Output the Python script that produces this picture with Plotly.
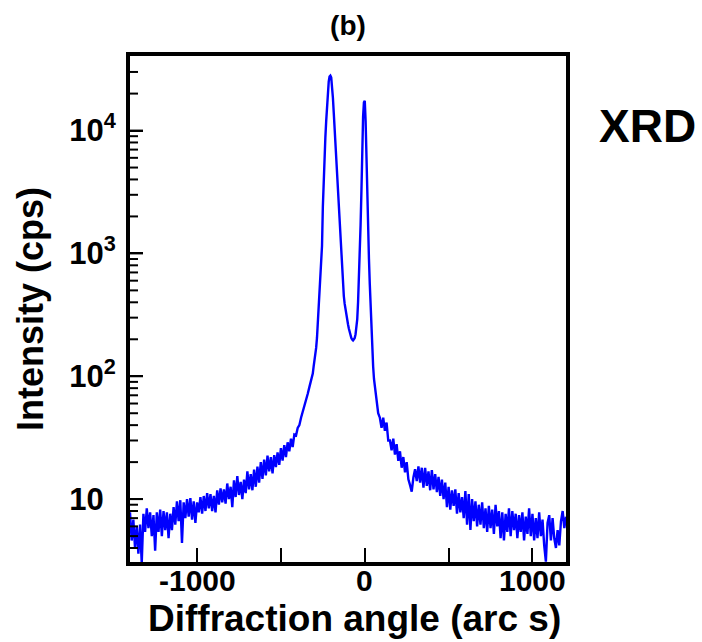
import plotly.graph_objects as go

# ---- data ----
# left tail: -1400 .. -320 arc s, step 10
angle_left = list(range(-1400, -319, 10))
cps_left = [
    7.8, 4.6, 6.8, 4.0, 6.0, 3.6, 6.2, 3.0, 7.6, 5.4,
    8.4, 5.8, 7.8, 5.0, 7.4, 3.8, 7.8, 5.4, 8.2, 5.0,
    8.0, 5.6, 7.8, 4.8, 7.6, 5.6, 8.6, 6.2, 9.6, 6.6,
    9.8, 4.4, 9.4, 7.0, 10.0, 7.2, 10.2, 6.8, 9.6, 6.4,
    9.4, 7.8, 10.4, 7.6, 10.6, 8.0, 11.2, 8.4, 11.0, 8.0,
    10.6, 7.8, 11.8, 9.0, 12.2, 9.4, 12.0, 9.2, 13.4, 10.0,
    12.6, 8.6, 14.2, 10.4, 15.4, 10.8, 13.8, 10.0, 14.4, 11.2,
    16.8, 12.0, 16.0, 11.8, 17.4, 12.6, 18.4, 13.6, 20.0, 14.6,
    21.0, 15.6, 22.6, 16.8, 22.0, 16.2, 22.8, 18.2, 24.0, 19.0,
    26.0, 20.6, 27.5, 22.0, 29.0, 24.5, 31.0, 26.5, 33.5, 33.0,
    38.0, 40.0, 46.0, 51.0, 58.0, 63.0, 72.0, 82.0, 92.0,
]

# peak region: -315 .. 60 arc s, step 5
angle_peak = list(range(-315, 61, 5))
cps_peak = [
    95, 105, 120, 132, 150, 170, 205, 270, 360, 480,
    620, 780, 1150, 2400, 4200, 6200, 8800, 12000, 16000, 21000,
    25000, 27500, 28000, 27000, 23000, 18500, 14000, 10500, 7500, 5400,
    3900, 3000, 2200, 1650, 1200, 880, 680, 540, 450, 390,
    345, 320, 290, 265, 245, 228, 215, 205, 199, 196,
    200, 205, 220, 250, 290, 400, 600, 900, 1700, 3200,
    7500, 13000, 17000, 17500, 12000, 5500, 2700, 1500, 900, 560,
    350, 230, 160, 120, 95, 82,
]

# right tail: 70 .. 1200 arc s, step 10
angle_right = list(range(70, 1201, 10))
cps_right = [
    62, 50, 46, 38, 46, 36, 42, 30, 30, 25,
    31, 23, 28, 20.5, 24.5, 18.0, 22.0, 16.5, 20.0, 14.5,
    13.0, 11.5, 15.0, 17.5, 14.0, 18.5, 13.6, 18.0, 12.4, 18.0,
    12.8, 16.8, 11.8, 17.2, 12.0, 16.0, 11.4, 15.2, 10.6, 14.4,
    10.0, 13.6, 8.6, 12.6, 8.2, 11.8, 8.8, 12.0, 7.6, 11.2,
    7.8, 10.4, 7.0, 11.6, 6.2, 11.0, 5.6, 10.0, 6.6, 9.6,
    6.0, 9.0, 6.2, 9.4, 5.8, 8.4, 5.4, 8.8, 5.8, 8.2,
    5.2, 9.0, 6.0, 8.0, 4.8, 7.8, 4.6, 7.6, 5.4, 8.4,
    5.0, 8.0, 5.6, 7.6, 4.8, 7.4, 5.4, 7.8, 4.6, 7.2,
    5.2, 8.4, 5.0, 7.6, 4.6, 7.0, 4.8, 7.8, 5.0, 6.8,
    4.2, 3.1, 6.4, 7.4, 4.6, 7.0, 4.8, 4.0, 5.6, 4.2,
    6.6, 8.0, 5.8, 7.2,
]

assert len(angle_left) == len(cps_left), (len(angle_left), len(cps_left))
assert len(angle_peak) == len(cps_peak), (len(angle_peak), len(cps_peak))
assert len(angle_right) == len(cps_right), (len(angle_right), len(cps_right))

angles = angle_left + angle_peak + angle_right
intensity = cps_left + cps_peak + cps_right

x_tickvals = [-1000, 0, 1000]
x_ticktext = ["-1000", "0", "1000"]
x_minor_tickvals = [-500, 500]
y_tickvals = [10, 100, 1000, 10000]
_ghost = "<span style='color:rgba(0,0,0,0)'><sup>0</sup></span>"
y_ticktext = ["10" + _ghost, "10<sup>2</sup>", "10<sup>3</sup>", "10<sup>4</sup>"]
y_minor_tickvals = [4, 5, 6, 7, 8, 9,
                    20, 30, 40, 50, 60, 70, 80, 90,
                    200, 300, 400, 500, 600, 700, 800, 900,
                    2000, 3000, 4000, 5000, 6000, 7000, 8000, 9000,
                    20000, 30000]

Y_RANGE = [0.488, 4.607]
FONT = "Liberation Sans, Arial, sans-serif"
PLOT_W = 702 - 130 - 136  # plot-area width in px (for tick lengths)

fig = go.Figure()
fig.add_trace(go.Scatter(
    x=angles, y=intensity, mode="lines",
    line=dict(color="#0000FF", width=2.4),
    showlegend=False, hoverinfo="skip",
))

# y-axis ticks (inside), placed through the y scale
tick_shapes = []
for v in y_tickvals:
    tick_shapes.append(dict(type="line", xref="x domain", x0=0, x1=13 / PLOT_W,
                            yref="y", y0=v, y1=v, line=dict(color="black", width=2)))
for v in y_minor_tickvals:
    tick_shapes.append(dict(type="line", xref="x domain", x0=0, x1=8 / PLOT_W,
                            yref="y", y0=v, y1=v, line=dict(color="black", width=2)))

# x tick labels as text placed through the x scale
x_label_annots = [dict(text=t, x=v, xref="x", y=-0.036, yref="paper",
                       xanchor="center", yanchor="middle", showarrow=False,
                       font=dict(family=FONT, size=30, weight="bold", color="black"))
                  for v, t in zip(x_tickvals, x_ticktext)]

fig.update_layout(
    width=702, height=642,
    margin=dict(l=130, r=136, t=56, b=80),
    paper_bgcolor="white", plot_bgcolor="white",
    font=dict(family=FONT, color="black"),
    title=dict(text="(b)", x=0.4957, xanchor="center", y=0.96, yanchor="middle",
               font=dict(family=FONT, size=28, weight="bold", color="black")),
    shapes=tick_shapes,
    annotations=x_label_annots + [
        dict(text="XRD", xref="paper", yref="paper", x=1.07, y=0.862,
             xanchor="left", yanchor="middle", showarrow=False,
             font=dict(family=FONT, size=46, weight="bold", color="black")),
        dict(text="Diffraction angle (arc s)", xref="paper", yref="paper",
             x=0.514, y=-0.112, xanchor="center", yanchor="middle", showarrow=False,
             font=dict(family=FONT, size=37, weight="bold", color="black")),
    ],
)

fig.update_xaxes(
    range=[-1400, 1200],
    showline=True, linewidth=4, linecolor="black", mirror=True,
    ticks="inside", ticklen=14, tickwidth=2, tickcolor="black",
    tickvals=x_tickvals, showticklabels=False,
    minor=dict(ticks="inside", ticklen=14, tickwidth=2, tickcolor="black",
               tickmode="array", tickvals=x_minor_tickvals, showgrid=False),
    showgrid=False, zeroline=False,
)

fig.update_yaxes(
    type="log", range=Y_RANGE,
    showline=True, linewidth=4, linecolor="black", mirror=True,
    ticks="inside", ticklen=13, tickwidth=2, tickcolor="black",
    tickmode="array", tickvals=y_tickvals, ticktext=y_ticktext,
    tickfont=dict(family=FONT, size=31, weight="bold", color="black"),
    ticklabelstandoff=4,
    showgrid=False, zeroline=False,
    title=dict(text="Intensity (cps)", standoff=16,
               font=dict(family=FONT, size=36, weight="bold", color="black")),
)

fig.write_html("out.html")
